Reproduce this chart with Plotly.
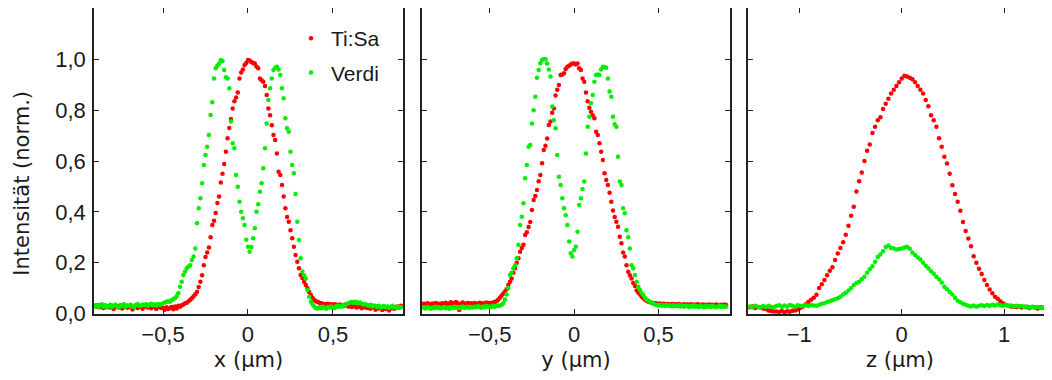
import plotly.graph_objects as go

# ---------------- data ----------------
# scan positions (µm) for the lateral profiles (x and y scans)
lat_pos = [
    -0.90, -0.89, -0.88, -0.87, -0.86, -0.85, -0.84, -0.83, -0.82, -0.81,
    -0.80, -0.79, -0.78, -0.77, -0.76, -0.75, -0.74, -0.73, -0.72, -0.71,
    -0.70, -0.69, -0.68, -0.67, -0.66, -0.65, -0.64, -0.63, -0.62, -0.61,
    -0.60, -0.59, -0.58, -0.57, -0.56, -0.55, -0.54, -0.53, -0.52, -0.51,
    -0.50, -0.49, -0.48, -0.47, -0.46, -0.45, -0.44, -0.43, -0.42, -0.41,
    -0.40, -0.39, -0.38, -0.37, -0.36, -0.35, -0.34, -0.33, -0.32, -0.31,
    -0.30, -0.29, -0.28, -0.27, -0.26, -0.25, -0.24, -0.23, -0.22, -0.21,
    -0.20, -0.19, -0.18, -0.17, -0.16, -0.15, -0.14, -0.13, -0.12, -0.11,
    -0.10, -0.09, -0.08, -0.07, -0.06, -0.05, -0.04, -0.03, -0.02, -0.01,
    0.00, 0.01, 0.02, 0.03, 0.04, 0.05, 0.06, 0.07, 0.08, 0.09,
    0.10, 0.11, 0.12, 0.13, 0.14, 0.15, 0.16, 0.17, 0.18, 0.19,
    0.20, 0.21, 0.22, 0.23, 0.24, 0.25, 0.26, 0.27, 0.28, 0.29,
    0.30, 0.31, 0.32, 0.33, 0.34, 0.35, 0.36, 0.37, 0.38, 0.39,
    0.40, 0.41, 0.42, 0.43, 0.44, 0.45, 0.46, 0.47, 0.48, 0.49,
    0.50, 0.51, 0.52, 0.53, 0.54, 0.55, 0.56, 0.57, 0.58, 0.59,
    0.60, 0.61, 0.62, 0.63, 0.64, 0.65, 0.66, 0.67, 0.68, 0.69,
    0.70, 0.71, 0.72, 0.73, 0.74, 0.75, 0.76, 0.77, 0.78, 0.79,
    0.80, 0.81, 0.82, 0.83, 0.84, 0.85, 0.86, 0.87, 0.88, 0.89,
    0.90,
]

x_tisa = [
    0.030, 0.027, 0.032, 0.025, 0.029, 0.022, 0.031, 0.026, 0.028, 0.024,
    0.030, 0.018, 0.027, 0.029, 0.024, 0.031, 0.020, 0.026, 0.030, 0.023,
    0.027, 0.029, 0.016, 0.025, 0.030, 0.022, 0.028, 0.026, 0.019, 0.027,
    0.030, 0.024, 0.028, 0.021, 0.026, 0.029, 0.018, 0.025, 0.027, 0.022,
    0.022, 0.015, 0.025, 0.018, 0.022, 0.026, 0.017, 0.028, 0.020, 0.030,
    0.027, 0.032, 0.035, 0.040, 0.042, 0.048, 0.054, 0.060, 0.068, 0.076,
    0.086, 0.104, 0.125, 0.150, 0.190, 0.222, 0.240, 0.260, 0.300, 0.348,
    0.365, 0.395, 0.435, 0.460, 0.515, 0.550, 0.588, 0.636, 0.690, 0.730,
    0.765, 0.807, 0.835, 0.850, 0.870, 0.925, 0.948, 0.960, 0.978, 0.986,
    0.997, 0.995, 0.990, 0.986, 0.984, 0.972, 0.965, 0.925, 0.918, 0.912,
    0.895, 0.860, 0.807, 0.780, 0.741, 0.702, 0.683, 0.630, 0.558, 0.545,
    0.506, 0.460, 0.414, 0.380, 0.361, 0.328, 0.296, 0.263, 0.230, 0.204,
    0.178, 0.151, 0.140, 0.125, 0.112, 0.099, 0.085, 0.073, 0.062, 0.053,
    0.048, 0.045, 0.042, 0.040, 0.038, 0.037, 0.036, 0.038, 0.035, 0.036,
    0.033, 0.036, 0.034, 0.030, 0.035, 0.032, 0.029, 0.034, 0.031, 0.028,
    0.030, 0.026, 0.032, 0.027, 0.024, 0.029, 0.026, 0.021, 0.028, 0.025,
    0.022, 0.027, 0.019, 0.024, 0.028, 0.015, 0.023, 0.020, 0.026, 0.014,
    0.022, 0.018, 0.025, 0.012, 0.021, 0.026, 0.019, 0.024, 0.028, 0.023,
    0.030,
]

x_verdi = [
    0.028, 0.033, 0.025, 0.030, 0.036, 0.027, 0.031, 0.024, 0.029, 0.034,
    0.026, 0.030, 0.035, 0.028, 0.024, 0.032, 0.029, 0.036, 0.027, 0.031,
    0.030, 0.034, 0.028, 0.026, 0.033, 0.037, 0.031, 0.029, 0.035, 0.032,
    0.036, 0.030, 0.034, 0.038, 0.032, 0.035, 0.031, 0.037, 0.034, 0.036,
    0.040, 0.043, 0.046, 0.048, 0.046, 0.052, 0.056, 0.060, 0.068, 0.080,
    0.105, 0.125, 0.151, 0.165, 0.178, 0.185, 0.190, 0.210, 0.224, 0.256,
    0.355, 0.414, 0.453, 0.512, 0.584, 0.624, 0.656, 0.702, 0.781, 0.831,
    0.925, 0.965, 0.975, 0.984, 0.997, 0.993, 0.958, 0.930, 0.925, 0.886,
    0.755, 0.670, 0.650, 0.545, 0.499, 0.440, 0.400, 0.375, 0.348, 0.290,
    0.263, 0.243, 0.262, 0.296, 0.335, 0.400, 0.430, 0.479, 0.512, 0.571,
    0.650, 0.748, 0.840, 0.886, 0.925, 0.958, 0.967, 0.971, 0.960, 0.938,
    0.886, 0.847, 0.768, 0.729, 0.715, 0.636, 0.584, 0.552, 0.470, 0.361,
    0.289, 0.217, 0.165, 0.150, 0.138, 0.092, 0.066, 0.046, 0.035, 0.028,
    0.022, 0.020, 0.025, 0.021, 0.027, 0.023, 0.019, 0.026, 0.024, 0.028,
    0.025, 0.022, 0.029, 0.026, 0.031, 0.027, 0.030, 0.034, 0.036, 0.040,
    0.043, 0.045, 0.041, 0.046, 0.044, 0.040, 0.043, 0.038, 0.035, 0.037,
    0.033, 0.030, 0.034, 0.028, 0.031, 0.029, 0.026, 0.030, 0.024, 0.027,
    0.029, 0.025, 0.028, 0.023, 0.026, 0.030, 0.024, 0.027, 0.022, 0.026,
    0.025,
]

y_tisa = [
    0.036, 0.038, 0.034, 0.040, 0.037, 0.035, 0.039, 0.036, 0.041, 0.037,
    0.038, 0.035, 0.040, 0.037, 0.042, 0.036, 0.039, 0.044, 0.038, 0.041,
    0.045, 0.040, 0.014, 0.038, 0.043, 0.039, 0.036, 0.041, 0.038, 0.040,
    0.037, 0.041, 0.039, 0.036, 0.042, 0.038, 0.040, 0.037, 0.043, 0.039,
    0.041, 0.040, 0.043, 0.045, 0.048, 0.054, 0.062, 0.070, 0.078, 0.086,
    0.095, 0.112, 0.125, 0.138, 0.160, 0.178, 0.200, 0.217, 0.243, 0.258,
    0.270, 0.309, 0.320, 0.340, 0.360, 0.407, 0.447, 0.462, 0.486, 0.520,
    0.545, 0.591, 0.643, 0.660, 0.689, 0.742, 0.755, 0.790, 0.807, 0.858,
    0.880, 0.899, 0.938, 0.940, 0.945, 0.962, 0.971, 0.975, 0.980, 0.984,
    0.984, 0.980, 0.984, 0.965, 0.958, 0.925, 0.912, 0.870, 0.835, 0.810,
    0.794, 0.780, 0.768, 0.715, 0.702, 0.670, 0.636, 0.604, 0.552, 0.525,
    0.506, 0.475, 0.440, 0.405, 0.380, 0.361, 0.341, 0.302, 0.276, 0.240,
    0.224, 0.190, 0.164, 0.150, 0.138, 0.120, 0.108, 0.090, 0.082, 0.075,
    0.066, 0.060, 0.054, 0.050, 0.046, 0.044, 0.042, 0.040, 0.040, 0.039,
    0.037, 0.039, 0.036, 0.038, 0.035, 0.037, 0.036, 0.034, 0.037, 0.035,
    0.036, 0.034, 0.037, 0.035, 0.033, 0.036, 0.034, 0.035, 0.033, 0.036,
    0.034, 0.035, 0.033, 0.036, 0.034, 0.032, 0.035, 0.033, 0.034, 0.032,
    0.035, 0.033, 0.034, 0.032, 0.035, 0.033, 0.031, 0.034, 0.033, 0.035,
    0.033,
]

y_verdi = [
    0.022, 0.025, 0.020, 0.026, 0.023, 0.019, 0.024, 0.021, 0.027, 0.022,
    0.025, 0.020, 0.023, 0.026, 0.021, 0.024, 0.019, 0.025, 0.022, 0.027,
    0.023, 0.026, 0.021, 0.024, 0.028, 0.022, 0.025, 0.027, 0.023, 0.026,
    0.024, 0.027, 0.025, 0.029, 0.026, 0.023, 0.028, 0.025, 0.030, 0.027,
    0.028, 0.026, 0.030, 0.027, 0.029, 0.031, 0.030, 0.033, 0.040, 0.055,
    0.075, 0.100, 0.151, 0.160, 0.178, 0.190, 0.217, 0.270, 0.348, 0.381,
    0.434, 0.532, 0.584, 0.656, 0.663, 0.748, 0.800, 0.853, 0.928, 0.958,
    0.985, 0.997, 1.000, 1.000, 0.984, 0.960, 0.932, 0.814, 0.760, 0.729,
    0.624, 0.538, 0.506, 0.453, 0.414, 0.387, 0.348, 0.283, 0.237, 0.224,
    0.250, 0.263, 0.322, 0.427, 0.453, 0.490, 0.519, 0.630, 0.735, 0.774,
    0.827, 0.860, 0.912, 0.938, 0.940, 0.938, 0.960, 0.971, 0.970, 0.967,
    0.925, 0.873, 0.853, 0.774, 0.745, 0.735, 0.617, 0.519, 0.506, 0.414,
    0.394, 0.328, 0.300, 0.256, 0.190, 0.178, 0.151, 0.125, 0.105, 0.092,
    0.080, 0.073, 0.062, 0.055, 0.050, 0.046, 0.042, 0.038, 0.035, 0.033,
    0.031, 0.034, 0.030, 0.032, 0.029, 0.033, 0.030, 0.031, 0.028, 0.032,
    0.030, 0.029, 0.032, 0.028, 0.031, 0.027, 0.030, 0.029, 0.026, 0.030,
    0.028, 0.031, 0.027, 0.029, 0.026, 0.030, 0.028, 0.025, 0.029, 0.027,
    0.029, 0.026, 0.030, 0.027, 0.025, 0.028, 0.030, 0.026, 0.029, 0.027,
    0.028,
]

# scan positions (µm) for the axial profile (z scan)
ax_pos = [
    -1.482, -1.456, -1.430, -1.404, -1.378, -1.352, -1.326, -1.300, -1.274, -1.248,
    -1.222, -1.196, -1.170, -1.144, -1.118, -1.092, -1.066, -1.040, -1.014, -0.988,
    -0.962, -0.936, -0.910, -0.884, -0.858, -0.832, -0.806, -0.780, -0.754, -0.728,
    -0.702, -0.676, -0.650, -0.624, -0.598, -0.572, -0.546, -0.520, -0.494, -0.468,
    -0.442, -0.416, -0.390, -0.364, -0.338, -0.312, -0.286, -0.260, -0.234, -0.208,
    -0.182, -0.156, -0.130, -0.104, -0.078, -0.052, -0.026, 0.000, 0.026, 0.052,
    0.078, 0.104, 0.130, 0.156, 0.182, 0.208, 0.234, 0.260, 0.286, 0.312,
    0.338, 0.364, 0.390, 0.416, 0.442, 0.468, 0.494, 0.520, 0.546, 0.572,
    0.598, 0.624, 0.650, 0.676, 0.702, 0.728, 0.754, 0.780, 0.806, 0.832,
    0.858, 0.884, 0.910, 0.936, 0.962, 0.988, 1.014, 1.040, 1.066, 1.092,
    1.118, 1.144, 1.170, 1.196, 1.222, 1.248, 1.274, 1.300, 1.326, 1.352,
    1.378, 1.404, 1.430, 1.456, 1.482,
]

z_tisa = [
    0.025, 0.028, 0.022, 0.026, 0.024, 0.020, 0.018, 0.012, 0.010, 0.008,
    0.008, 0.006, 0.010, 0.005, 0.009, 0.007, 0.011, 0.012, 0.016, 0.022,
    0.028, 0.036, 0.046, 0.054, 0.062, 0.074, 0.100, 0.115, 0.132, 0.150,
    0.168, 0.182, 0.210, 0.236, 0.258, 0.280, 0.310, 0.345, 0.385, 0.420,
    0.480, 0.520, 0.555, 0.600, 0.640, 0.665, 0.710, 0.735, 0.760, 0.772,
    0.805, 0.825, 0.845, 0.866, 0.880, 0.895, 0.910, 0.925, 0.935, 0.932,
    0.928, 0.922, 0.910, 0.895, 0.880, 0.866, 0.840, 0.815, 0.780, 0.760,
    0.735, 0.690, 0.656, 0.617, 0.590, 0.550, 0.505, 0.470, 0.440, 0.404,
    0.360, 0.325, 0.295, 0.265, 0.225, 0.200, 0.176, 0.155, 0.132, 0.112,
    0.094, 0.080, 0.066, 0.058, 0.048, 0.040, 0.034, 0.030, 0.028, 0.027,
    0.026, 0.028, 0.024, 0.027, 0.025, 0.022, 0.026, 0.024, 0.020, 0.025,
    0.023, 0.026, 0.021, 0.024, 0.027,
]

z_verdi = [
    0.028, 0.025, 0.030, 0.027, 0.024, 0.029, 0.026, 0.030, 0.027, 0.025,
    0.029, 0.032, 0.027, 0.031, 0.028, 0.033, 0.030, 0.027, 0.032, 0.029,
    0.030, 0.032, 0.029, 0.033, 0.031, 0.030, 0.034, 0.038, 0.040, 0.045,
    0.048, 0.052, 0.056, 0.060, 0.066, 0.075, 0.082, 0.090, 0.100, 0.112,
    0.120, 0.125, 0.135, 0.145, 0.160, 0.174, 0.186, 0.204, 0.222, 0.232,
    0.245, 0.262, 0.268, 0.258, 0.256, 0.252, 0.254, 0.256, 0.260, 0.263,
    0.255, 0.240, 0.230, 0.220, 0.212, 0.200, 0.188, 0.178, 0.166, 0.156,
    0.145, 0.135, 0.122, 0.105, 0.095, 0.085, 0.075, 0.062, 0.050, 0.044,
    0.038, 0.034, 0.030, 0.028, 0.031, 0.027, 0.030, 0.032, 0.029, 0.033,
    0.030, 0.034, 0.031, 0.035, 0.032, 0.030, 0.033, 0.029, 0.031, 0.028,
    0.030, 0.027, 0.029, 0.026, 0.028, 0.025, 0.027, 0.024, 0.026, 0.023,
    0.025, 0.022, 0.024, 0.021, 0.023,
]

series_names = ["Ti:Sa", "Verdi"]
series_colors = ["#ff0000", "#00ee00"]
axis_titles = ["x (µm)", "y (µm)", "z (µm)"]
y_title = "Intensität (norm.)"
y_tickvals = [0.0, 0.2, 0.4, 0.6, 0.8, 1.0]

# ---------------- figure ----------------
# The page body has an 8 px default margin, so the figure is laid out
# in its own coordinates (page position minus 8 px) and sized so that the
# page does not overflow the window.
FONT = "Liberation Sans, Arial, Helvetica, sans-serif"
TFONT = "DejaVu Sans, Liberation Sans, sans-serif"
TXT = "#1a1a1a"
OFF = 8
W, H = 1052 - OFF, 380 - 2 * OFF
ML, MR, MT = 94 - OFF, 0, 0
PLOT_BOTTOM = 314 - OFF
MB = H - PLOT_BOTTOM
PW = W - ML - MR
PH = PLOT_BOTTOM - MT

def px_dom(a, b):  # page pixels -> paper fraction
    return [(a - OFF - ML) / PW, min(1.0, (b - OFF - ML) / PW)]

domains = [px_dom(94, 403), px_dom(422, 730), px_dom(748, 1052)]
xranges = [[-0.906, 0.912], [-0.901, 0.923], [-1.5, 1.466]]
dticks = [0.5, 0.5, 1]

panels = [
    (lat_pos, [x_tisa, x_verdi]),
    (lat_pos, [y_tisa, y_verdi]),
    (ax_pos, [z_tisa, z_verdi]),
]

fig = go.Figure()
for i, (pos, ys) in enumerate(panels):
    for j, yv in enumerate(ys):
        fig.add_trace(go.Scatter(
            x=pos, y=yv, mode="markers",
            name=series_names[j],
            legendgroup=series_names[j],
            showlegend=(i == 0),
            marker=dict(size=4.5, color=series_colors[j], line=dict(width=0)),
            xaxis="x" if i == 0 else f"x{i+1}",
            yaxis="y" if i == 0 else f"y{i+1}",
            hoverinfo="skip",
        ))

tickfont = dict(family=FONT, size=22, color=TXT)
layout = dict(
    width=W, height=H,
    margin=dict(l=ML, r=MR, t=MT, b=MB, pad=0, autoexpand=False),
    paper_bgcolor="white", plot_bgcolor="white",
    separators=",.",
    font=dict(family=FONT, size=21, color=TXT),
    showlegend=True,
    legend=dict(
        x=(291 - OFF - ML) / PW, xanchor="left",
        y=(PH - 10) / PH, yanchor="top",
        bgcolor="rgba(0,0,0,0)", borderwidth=0,
        font=dict(family=FONT, size=21, color=TXT),
        tracegroupgap=4,
        itemsizing="trace",
    ),
)

for i in range(3):
    sx = "" if i == 0 else str(i + 1)
    layout[f"xaxis{sx}"] = dict(
        domain=domains[i], range=xranges[i], anchor=f"y{sx}",
        dtick=dticks[i], tick0=0, automargin=False,
        showline=True, linecolor="#222", linewidth=1.5, mirror="ticks",
        ticks="inside", ticklen=5, tickwidth=1, tickcolor="#222",
        showgrid=False, zeroline=False,
        tickfont=tickfont,
        title=dict(text=axis_titles[i], font=dict(family=TFONT, size=21, color=TXT), standoff=8),
    )
    layout[f"yaxis{sx}"] = dict(
        domain=[0, 1], range=[-0.002, 1.202], anchor=f"x{sx}",
        tickmode="array", tickvals=y_tickvals, tickformat=".1f",
        automargin=False,
        showline=True, linecolor="#222", linewidth=1.5,
        mirror="ticks" if i < 2 else False,
        ticks="inside", ticklen=5, tickwidth=1, tickcolor="#222",
        showgrid=False, zeroline=False,
        showticklabels=(i == 0),
        ticklabelstandoff=2,
        tickfont=tickfont,
    )

fig.update_layout(**layout)

fig.add_annotation(
    text=y_title, textangle=-90, showarrow=False,
    xref="paper", yref="paper",
    x=(21.7 - OFF - ML) / PW, y=(PLOT_BOTTOM - (183 - OFF)) / PH,
    xanchor="center", yanchor="middle",
    font=dict(family=TFONT, size=21, color=TXT),
)

fig.write_html("out.html")
